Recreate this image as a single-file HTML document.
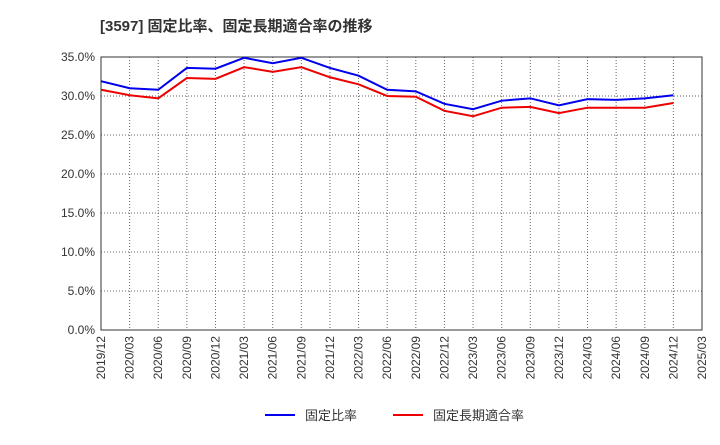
<!DOCTYPE html>
<html><head><meta charset="utf-8"><style>
body{margin:0;background:#fff;font-family:"Liberation Sans","Noto Sans CJK JP",sans-serif;}
svg text{font-family:"Liberation Sans","Noto Sans CJK JP",sans-serif;}
</style></head><body>
<svg id="chart" width="720" height="440" xmlns="http://www.w3.org/2000/svg">
<text x="100" y="31" font-size="15" font-weight="bold" fill="#333">[3597]  固定比率、固定長期適合率の推移</text>
<g id="grid"></g><g id="axes"></g><g id="series"></g>
<g>
<line x1="265" y1="415" x2="295" y2="415" stroke="#0000ee" stroke-width="2"/>
<text x="305" y="420" font-size="13" fill="#333">固定比率</text>
<line x1="393" y1="415" x2="423" y2="415" stroke="#ee0000" stroke-width="2"/>
<text x="433" y="420" font-size="13" fill="#333">固定長期適合率</text>
</g>
</svg>
<script>
const categories=["2019/12","2020/03","2020/06","2020/09","2020/12","2021/03","2021/06","2021/09","2021/12","2022/03","2022/06","2022/09","2022/12","2023/03","2023/06","2023/09","2023/12","2024/03","2024/06","2024/09","2024/12","2025/03"];
const fixedRatio=[31.9,31.0,30.8,33.6,33.5,34.9,34.2,34.9,33.6,32.6,30.8,30.6,29.0,28.3,29.4,29.7,28.8,29.6,29.5,29.7,30.1];
const fixedLongTermRatio=[30.8,30.1,29.7,32.3,32.2,33.7,33.1,33.7,32.4,31.5,30.0,29.9,28.1,27.4,28.5,28.6,27.8,28.5,28.5,28.5,29.1];
const yTicks=[0,5,10,15,20,25,30,35];
const NS="http://www.w3.org/2000/svg";
const L=101,R=702,T=57,B=330,yMax=35;
const x=i=>L+i*(R-L)/(categories.length-1);
const y=v=>B-v/yMax*(B-T);
function mk(tag,attrs,parent){const e=document.createElementNS(NS,tag);for(const k in attrs)e.setAttribute(k,attrs[k]);parent.appendChild(e);return e;}
const grid=document.getElementById('grid'),axes=document.getElementById('axes'),series=document.getElementById('series');
yTicks.forEach(v=>{
 const g=mk('line',{x1:L,x2:R,y1:y(v),y2:y(v),stroke:'#666','stroke-dasharray':'1,2','stroke-width':1},grid);
 
 
 const t=mk('text',{x:L-6,y:y(v)+4,'text-anchor':'end','font-size':12,fill:'#333'},axes);
 t.textContent=v.toFixed(1)+'%';
 
 
});
categories.forEach((c,i)=>{
 const g=mk('line',{x1:x(i),x2:x(i),y1:T,y2:B,stroke:'#666','stroke-dasharray':'1,2','stroke-width':1},grid);
 
 
 const t=mk('text',{transform:`translate(${x(i)+4},${B+6}) rotate(-90)`,'text-anchor':'end','font-size':12,fill:'#333'},axes);
 t.textContent=c;
 
 
});
const fr=mk('rect',{x:L,y:T,width:R-L,height:B-T,fill:'none',stroke:'#333','stroke-width':1},axes);


function line(data,color,name){
 const p=mk('polyline',{points:data.map((v,i)=>x(i)+','+y(v)).join(' '),fill:'none',stroke:color,'stroke-width':2},series);
 
 
}
line(fixedRatio,'#0000ee','fixed-ratio-line');
line(fixedLongTermRatio,'#ee0000','fixed-long-term-ratio-line');
</script>
</body></html>
